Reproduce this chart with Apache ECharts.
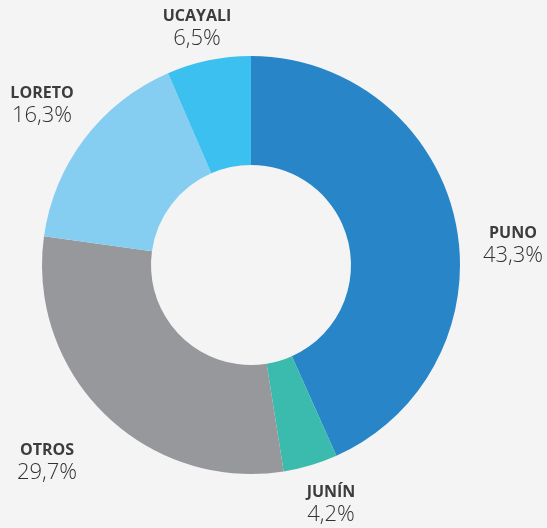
<!DOCTYPE html>
<html>
<head>
    <meta charset="utf-8">
    <title>ECharts</title>
    <script src="https://cdn.jsdelivr.net/npm/echarts@6/dist/echarts.min.js"></script>
    <style>
        body { margin: 0; background: #f4f4f4; }
    </style>
</head>
<body>
<div id="main" style="width: 547px;height:528px;"></div>
<script type="text/javascript">
    // datos
    var regiones = ['PUNO', 'JUNÍN', 'OTROS', 'LORETO', 'UCAYALI'];
    var porcentajes = [43.3, 4.2, 29.7, 16.3, 6.5];
    var colores = ['#2886c8', '#3bbbad', '#97989c', '#86cdf2', '#3cc0f0'];
    // posicion de cada etiqueta (centro del bloque de texto)
    var etiquetaPos = [[513, 246], [331, 505], [47, 463], [42, 106], [197, 29]];

    var myChart = echarts.init(document.getElementById('main'));

    var datos = regiones.map(function (r, i) {
        return { name: r, value: porcentajes[i], itemStyle: { color: colores[i] } };
    });

    var option = {
        backgroundColor: '#f4f4f4',
        series: [{
            type: 'pie',
            center: [251, 265],
            radius: [100, 209],
            startAngle: 90,
            clockwise: true,
            silent: true,
            data: datos,
            labelLine: { show: false },
            label: {
                show: true,
                position: 'outside',
                overflow: 'none',
                edgeDistance: 0,
                formatter: function (p) {
                    return '{n|' + p.name + '}\n{v|' + p.value.toFixed(1).replace('.', ',') + '%}';
                },
                rich: {
                    n: { fontFamily: 'Open Sans', fontWeight: 'bold', fontSize: 16, color: '#3c3c3c', lineHeight: 20, align: 'center' },
                    v: { fontFamily: 'Open Sans', fontWeight: 300, fontSize: 22, color: '#333', lineHeight: 26, align: 'center' }
                }
            },
            labelLayout: function (params) {
                var p = etiquetaPos[params.dataIndex];
                return { x: p[0], y: p[1], align: 'center', verticalAlign: 'middle', width: 120 };
            }
        }]
    };
    myChart.setOption(option);
</script>
</body>
</html>
